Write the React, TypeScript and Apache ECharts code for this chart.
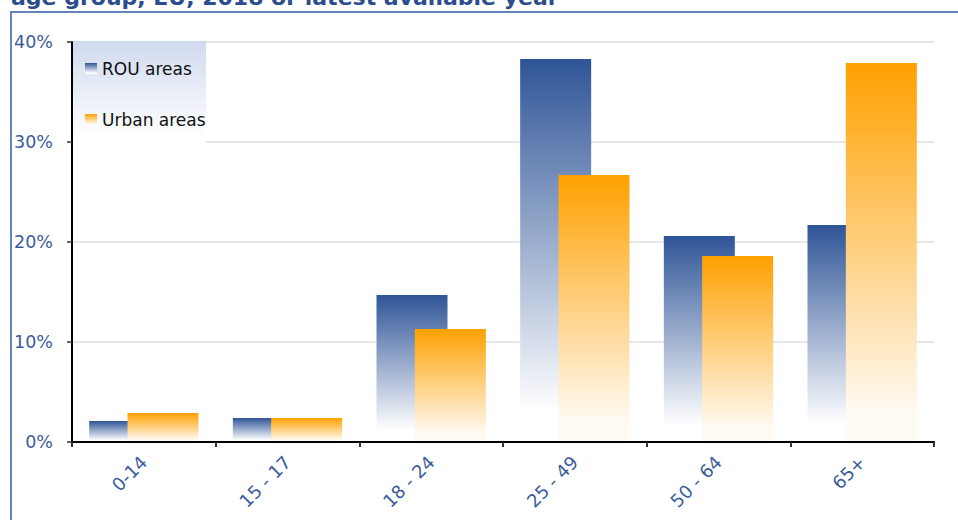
import React, { useEffect, useRef } from "react";
import * as echarts from "echarts";

const categories = ["0-14", "15 - 17", "18 - 24", "25 - 49", "50 - 64", "65+"];
const rouAreas = [2.1, 2.4, 14.7, 38.3, 20.6, 21.7];
const urbanAreas = [2.9, 2.4, 11.3, 26.7, 18.6, 37.9];
const seriesNames = ["ROU areas", "Urban areas"];
const titleText = "age group, EU, 2018 or latest available year";

const FONT = "DejaVu Sans";
const LABEL_BLUE = "#3b5c9c";

function grad(top: string, bottom: string) {
  return new echarts.graphic.LinearGradient(0, 0, 0, 1, [
    { offset: 0, color: top },
    { offset: 0.92, color: bottom },
    { offset: 1, color: bottom },
  ]);
}

export default function App() {
  const ref = useRef<HTMLDivElement>(null);
  useEffect(() => {
    if (!ref.current) return;
    const chart = echarts.init(ref.current, undefined, { renderer: "svg" });
    chart.setOption({
      animation: false,
      backgroundColor: "#ffffff",
      textStyle: { fontFamily: FONT },
      grid: { left: 72, right: 24, top: 42, bottom: 78, containLabel: false },
      graphic: [
        {
          type: "rect",
          z: 0,
          silent: true,
          shape: { x: 11, y: 12, width: 1000, height: 1000 },
          style: { fill: "none", stroke: "#6584bd", lineWidth: 2 },
        },
        {
          type: "text",
          z: 5,
          silent: true,
          style: {
            text: titleText,
            x: 11,
            y: -3,
            verticalAlign: "middle",
            fontFamily: FONT,
            fontWeight: "bold",
            fontSize: 22,
            fill: "#2b4d8e",
          },
        },
        {
          type: "rect",
          z: 3,
          silent: true,
          shape: { x: 73, y: 41, width: 133, height: 108 },
          style: {
            fill: new echarts.graphic.LinearGradient(0, 0, 0, 1, [
              { offset: 0, color: "#d0daee" },
              { offset: 0.9, color: "#ffffff" },
              { offset: 1, color: "#ffffff" },
            ]),
          },
        },
      ],
      legend: {
        orient: "vertical",
        left: 80,
        top: 55,
        z: 6,
        itemGap: 34,
        itemWidth: 12,
        itemHeight: 11,
        icon: "rect",
        data: seriesNames,
        textStyle: { fontFamily: FONT, fontSize: 17, color: "#111111" },
      },
      xAxis: {
        type: "category",
        data: categories,
        z: 10,
        axisLine: { lineStyle: { color: "#000000", width: 2 } },
        axisTick: { show: true, length: 5, inside: false, lineStyle: { color: "#333333", width: 2 } },
        axisLabel: {
          rotate: 45,
          margin: 17,
          color: LABEL_BLUE,
          fontSize: 18,
          fontFamily: FONT,
        },
        splitLine: { show: false },
      },
      yAxis: {
        type: "value",
        min: 0,
        max: 40,
        interval: 10,
        axisLine: { show: true, lineStyle: { color: "#000000", width: 2 } },
        axisTick: { show: true, length: 5, lineStyle: { color: "#333333", width: 1.5 } },
        axisLabel: {
          formatter: "{value}%",
          margin: 19,
          color: LABEL_BLUE,
          fontSize: 17.5,
          fontFamily: FONT,
        },
        splitLine: { show: true, lineStyle: { color: "#e6e6e6", width: 2 } },
      },
      series: [
        {
          name: seriesNames[0],
          type: "bar",
          data: rouAreas,
          barWidth: 71,
          barGap: "-46%",
          z: 2,
          itemStyle: { color: grad("#2f5597", "#ffffff") },
        },
        {
          name: seriesNames[1],
          type: "bar",
          data: urbanAreas,
          barWidth: 71,
          barGap: "-46%",
          z: 3,
          itemStyle: { color: grad("#ffa000", "#fffaf2") },
        },
      ],
    });
    return () => chart.dispose();
  }, []);
  return (
    <div
      ref={ref}
      style={{ position: "fixed", left: 0, top: 0, width: 958, height: 520 }}
    />
  );
}
